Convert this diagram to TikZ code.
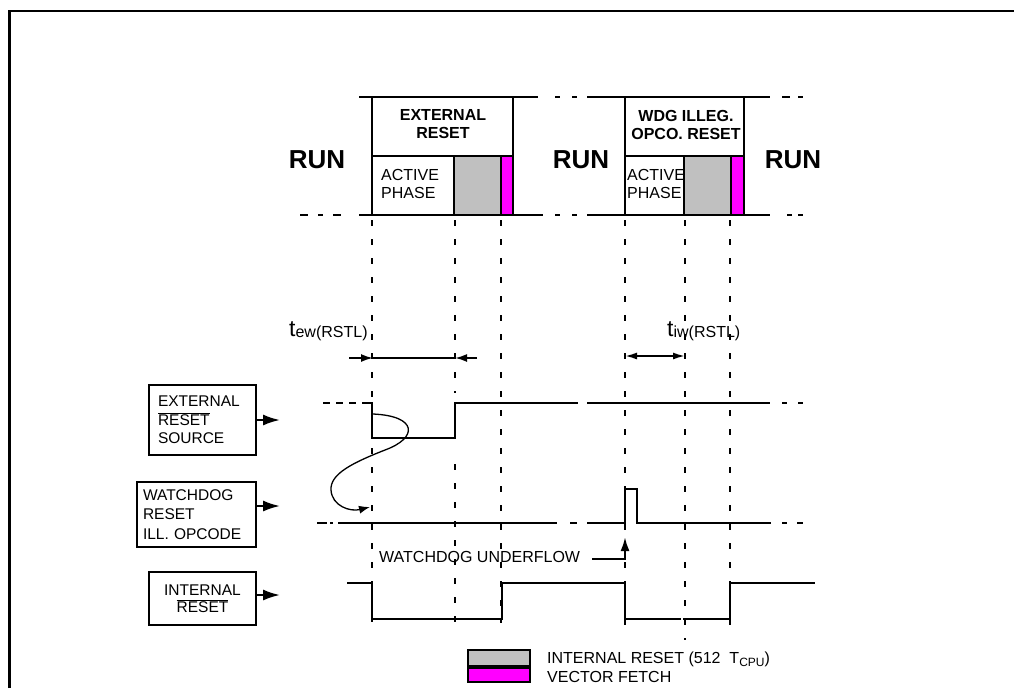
\documentclass[tikz,border=0pt]{standalone}
\usepackage{fontspec}
\setmainfont{Liberation Sans}
\usetikzlibrary{arrows.meta}
\definecolor{rgray}{HTML}{C0C0C0}
\definecolor{rmag}{HTML}{FF00FF}
\begin{document}
\begin{tikzpicture}[x=1pt,y=-1pt,
  sig/.style={line width=2.4pt},
  vdash/.style={line width=2pt, dash pattern=on 6pt off 13pt},
  frameline/.style={line width=2.2pt},
  boxline/.style={line width=2.4pt},
  lblbox/.style={draw, line width=2.3pt, inner ysep=0pt},
  bigarrow/.style={line width=2.4pt, -{Latex[length=17pt,width=11pt]}},
  dimarrow/.style={line width=1.8pt, -{Latex[length=12pt,width=8pt]}},
  runlbl/.style={font=\fontsize{26}{26}\selectfont\bfseries, inner sep=0pt},
  hdr/.style={font=\fontsize{16}{18}\selectfont\bfseries, align=center, inner sep=0pt},
  phase/.style={font=\fontsize{16}{18}\selectfont, align=left, inner sep=0pt, anchor=west},
  txt/.style={font=\fontsize{16}{18}\selectfont, inner sep=0pt, anchor=west}
]
\useasboundingbox (0,0) rectangle (1014,688);

% frame
\draw[frameline] (9.5,688) -- (9.5,11) -- (1014,11);

% ---- top state boxes ----
\draw[boxline] (359,97) -- (538,97);
\draw[boxline] (555,97) -- (560,97) (572,97) -- (577,97);
\draw[boxline] (587,97) -- (770,97);
\draw[boxline] (782,97) -- (790,97) (798,97) -- (803,97);
\draw[boxline] (300,215) -- (308,215) (318,215) -- (323,215) (333,215) -- (341,215);
\draw[boxline] (359,215) -- (543,215);
\draw[boxline] (555,215) -- (560,215) (572,215) -- (577,215);
\draw[boxline] (587,215) -- (770,215);
\draw[boxline] (787,215) -- (792,215) (798,215) -- (803,215);

\draw[boxline] (372,97) -- (372,215) (513,97) -- (513,215) (372,156) -- (513,156);
\draw[boxline] (625,97) -- (625,215) (744,97) -- (744,215) (625,156) -- (744,156);

\node[hdr] (h1) at (443,124) {EXTERNAL\\RESET};
\node[hdr] (h2) at (686,125) {WDG ILLEG.\\OPCO. RESET};
\node[phase] (p1) at (381,184) {ACTIVE\\PHASE};
\node[phase] (p2) at (627,184) {ACTIVE\\PHASE};

\draw[boxline, fill=rgray] (454,156) rectangle (501,215);
\draw[boxline, fill=rmag] (501,156) rectangle (513,215);
\draw[boxline, fill=rgray] (684,156) rectangle (731,215);
\draw[boxline, fill=rmag] (731,156) rectangle (744,215);

\node[runlbl] (run1) at (317,160) {RUN};
\node[runlbl] (run2) at (581,160) {RUN};
\node[runlbl] (run3) at (793,160) {RUN};

% ---- vertical dashed time markers ----
\draw[vdash] (372,220) -- (372,622);
\draw[vdash] (455,220) -- (455,393);
\draw[vdash] (455,464) -- (455,623);
\draw[vdash] (501,220) -- (501,623);
\draw[vdash] (625,220) -- (625,634);
\draw[vdash] (685,220) -- (685,640);
\draw[vdash] (730,220) -- (730,638);

% ---- timing labels ----
\node[anchor=base west, inner sep=0pt] (tew) at (289,336) {\fontsize{23}{23}\selectfont t\raisebox{-1pt}{\fontsize{16}{16}\selectfont ew(RSTL)}};
\draw[dimarrow] (349,358) -- (373,358);
\draw[line width=1.8pt] (373,358) -- (455,358);
\draw[dimarrow] (477,358) -- (455,358);

\node[anchor=base west, inner sep=0pt] (tiw) at (667,336) {\fontsize{23}{23}\selectfont t\raisebox{-1pt}{\fontsize{16}{16}\selectfont iw(RSTL)}};
\draw[line width=1.8pt, {Latex[length=12pt,width=7pt]}-{Latex[length=12pt,width=7pt]}] (625,356) -- (685,356);

% ---- signal label boxes ----
\node[lblbox, inner xsep=9pt, minimum width=107pt, minimum height=70pt, text width=89pt, align=left,
      font=\fontsize{15.5}{18.5}\selectfont] (extbox) at (202.5,420)
      {EXTERNAL\\$\overline{\hbox{RESET}}$\\SOURCE};
\node[lblbox, inner xsep=6pt, minimum width=119pt, minimum height=65pt, text width=107pt, align=left,
      font=\fontsize{15.5}{19.5}\selectfont] (wdgbox) at (196.5,514.5)
      {WATCHDOG\\RESET\\ILL.~OPCODE};
\node[lblbox, inner xsep=9pt, minimum width=107pt, minimum height=53pt, text width=89pt, align=center,
      font=\fontsize{15.5}{17}\selectfont] (intbox) at (202.5,598.5)
      {INTERNAL\\$\overline{\hbox{RESET}}$};

\draw[bigarrow] (extbox.east) -- ++(23,0);
\draw[bigarrow] ([yshift=8.5pt]wdgbox.east) -- ++(23,0);
\draw[bigarrow] ([yshift=3.5pt]intbox.east) -- ++(23,0);

% ---- external reset source signal ----
\draw[sig, dash pattern=on 7pt off 6pt] (323,403) -- (366,403);
\draw[sig] (363,403) -- (372,403) -- (372,438) -- (455,438) -- (455,403) -- (578,403);
\draw[sig] (587,403) -- (770,403);
\draw[sig] (782,403) -- (787,403) (798,403) -- (803,403);

% causal curve
\draw[line width=1.3pt, -{Latex[length=11pt,width=8pt]}]
  (373,414) .. controls (418,416) and (418,438) .. (385,450)
  .. controls (352,463) and (330,474) .. (331,490)
  .. controls (332,506) and (350,512) .. (370,507);

% ---- watchdog signal ----
\draw[sig] (317,523) -- (327,523) (330,523) -- (333,523);
\draw[sig] (338,523) -- (557,523);
\draw[sig] (570,523) -- (577,523);
\draw[sig] (587,523) -- (625,523) -- (625,489) -- (637,489) -- (637,523) -- (771,523);
\draw[sig] (782,523) -- (787,523) (797,523) -- (803,523);

\node[txt] (uf) at (379,557) {WATCHDOG UNDERFLOW};
\coordinate (ufbend) at (625,559);
\draw[line width=2.2pt, -{Latex[length=14pt,width=9pt]}] ([xshift=12pt]uf.east |- ufbend) -- (ufbend) -- (625,537);

% ---- internal reset signal ----
\draw[sig] (347,583) -- (372,583) -- (372,619) -- (502,619) -- (502,583) -- (625,583) -- (625,619) -- (681,619);
\draw[sig] (683,619) -- (730,619) -- (730,583) -- (815,583);

% ---- legend ----
\draw[line width=2.2pt, fill=rgray] (468,650) rectangle (530,666);
\draw[line width=2.2pt, fill=rmag] (468,668) rectangle (530,682);
\node[txt] (lg1) at (547,659) {INTERNAL RESET (512~~T\raisebox{-3pt}{\fontsize{12}{12}\selectfont CPU})};
\node[txt] (lg2) at (547,677) {VECTOR FETCH};
\end{tikzpicture}
\end{document}
